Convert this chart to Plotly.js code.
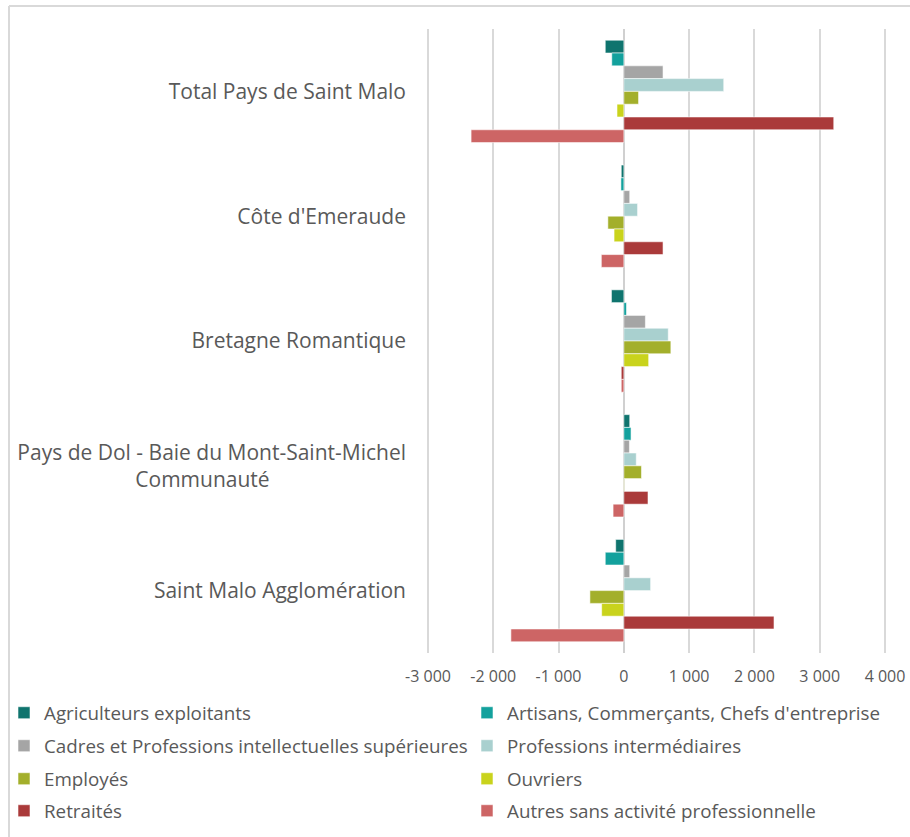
<!DOCTYPE html>
<html>
<head>
<meta charset="utf-8">
<script src="https://cdn.plot.ly/plotly-3.0.1.min.js"></script>
<style>
  html, body { margin: 0; padding: 0; background: #ffffff; }
  #chart { width: 910px; height: 837px; }
</style>
</head>
<body>
<div id="chart"></div>
<script>
// Territories (top to bottom). The Dol label is split on two lines; the
// trailing no-break spaces centre its second line under the first.
const NB = '\u00a0';
const territories = [
  'Total Pays de Saint Malo',
  "Côte d'Emeraude",
  'Bretagne Romantique',
  'Pays de Dol - Baie du Mont-Saint-Michel<br>Communauté' + NB.repeat(25),
  'Saint Malo Agglomération'
];

// Socio-professional categories (legend order)
const seriesNames = [
  'Agriculteurs exploitants',
  'Artisans, Commerçants, Chefs d\'entreprise',
  'Cadres et Professions intellectuelles supérieures',
  'Professions intermédiaires',
  'Employés',
  'Ouvriers',
  'Retraités',
  'Autres sans activité professionnelle'
];

// Net change per category, one value per territory (same order as territories)
const agriculteurs = [-285, -40, -190, 90, -125];
const artisans     = [-185, -45, 40, 110, -285];
const cadres       = [600, 90, 330, 85, 90];
const profInter    = [1530, 210, 680, 190, 410];
const employes     = [225, -245, 720, 270, -520];
const ouvriers     = [-105, -150, 380, 5, -340];
const retraites    = [3215, 600, -40, 370, 2300];
const autres       = [-2340, -345, -40, -165, -1730];

// Value axis ticks
const xTickVals = [-3000, -2000, -1000, 0, 1000, 2000, 3000, 4000];
const xTickText = ['-3 000', '-2 000', '-1 000', '0', '1 000', '2 000', '3 000', '4 000'];

const seriesValues = [agriculteurs, artisans, cadres, profInter, employes, ouvriers, retraites, autres];

const seriesColors = ['#0f746e', '#13a19d', '#a5a5a5', '#a9d0cf', '#a3af2b', '#c9d31c', '#aa3a3a', '#cd6565'];

// One small legend per entry, laid out as a two-column grid
const legendIds = ['legend', 'legend2', 'legend3', 'legend4', 'legend5', 'legend6', 'legend7', 'legend8'];

const traces = seriesNames.map((name, i) => ({
  type: 'bar',
  orientation: 'h',
  name: name,
  y: territories,
  x: seriesValues[i],
  legend: legendIds[i],
  marker: { color: seriesColors[i], line: { color: 'rgba(255,255,255,0.55)', width: 1 } },
  hovertemplate: '%{y}<br>' + name + ': %{x}<extra></extra>'
}));

const textColor = '#595959';
const fontFamily = '"Open Sans", Lato, sans-serif';

// Page and plot geometry (pixels). The plot area runs to the right edge of
// the page; the axis range is set so that -3 000 falls at x = 428 and
// 4 000 at x = 885, with a little room left of the first grid line.
const W = 910, H = 837;
const plotL = 426, plotR = 910, plotT = 29, plotB = 653;
const plotW = plotR - plotL, plotH = plotB - plotT;
const unitsPerPx = 7000 / (885 - 428);
const xMin = -3000 - (428 - plotL) * unitsPerPx;
const xMax = xMin + plotW * unitsPerPx;

// legend column left edges and row centres, in page pixels
const colX = [4, 467];
const rowY = [713, 746, 779, 811];

function legendAt(col, row) {
  return {
    x: (colX[col] - plotL) / plotW, xanchor: 'left',
    y: (plotB - rowY[row]) / plotH, yanchor: 'middle',
    orientation: 'v',
    font: { family: fontFamily, size: 18.8, color: textColor },
    bgcolor: 'rgba(0,0,0,0)',
    borderwidth: 0
  };
}

const frameX = (9 - plotL) / plotW;
const frameY = (plotB - 6) / plotH;

const layout = {
  width: W,
  height: H,
  margin: { l: plotL, r: W - plotR, t: plotT, b: H - plotB, pad: 0 },
  paper_bgcolor: '#ffffff',
  plot_bgcolor: '#ffffff',
  font: { family: fontFamily, color: textColor },
  barmode: 'group',
  bargap: 0.18,
  bargroupgap: 0,
  xaxis: {
    range: [xMin, xMax],
    tickmode: 'array',
    tickvals: xTickVals,
    ticktext: xTickText,
    showgrid: true,
    gridcolor: '#d9d9d9',
    gridwidth: 2,
    zeroline: true,
    zerolinecolor: '#d0d0d0',
    zerolinewidth: 2,
    showline: false,
    ticks: '',
    ticklabelstandoff: 12,
    tickfont: { family: fontFamily, size: 16, color: textColor },
    automargin: false,
    fixedrange: true
  },
  yaxis: {
    type: 'category',
    autorange: 'reversed',
    showgrid: false,
    zeroline: false,
    showline: false,
    ticks: '',
    ticklabelstandoff: 19,
    tickfont: { family: fontFamily, size: 21, color: textColor },
    automargin: false,
    fixedrange: true
  },
  showlegend: true,
  legend: legendAt(0, 0),
  legend2: legendAt(1, 0),
  legend3: legendAt(0, 1),
  legend4: legendAt(1, 1),
  legend5: legendAt(0, 2),
  legend6: legendAt(1, 2),
  legend7: legendAt(0, 3),
  legend8: legendAt(1, 3),
  shapes: [
    // chart frame (top and left edges)
    { type: 'line', xref: 'paper', yref: 'paper', x0: frameX, x1: 1.05, y0: frameY, y1: frameY,
      line: { color: '#d9d9d9', width: 2 } },
    { type: 'line', xref: 'paper', yref: 'paper', x0: frameX, x1: frameX, y0: frameY, y1: -0.4,
      line: { color: '#d9d9d9', width: 2 } }
  ]
};

Plotly.newPlot('chart', traces, layout, { displayModeBar: false, responsive: false });
</script>
</body>
</html>
